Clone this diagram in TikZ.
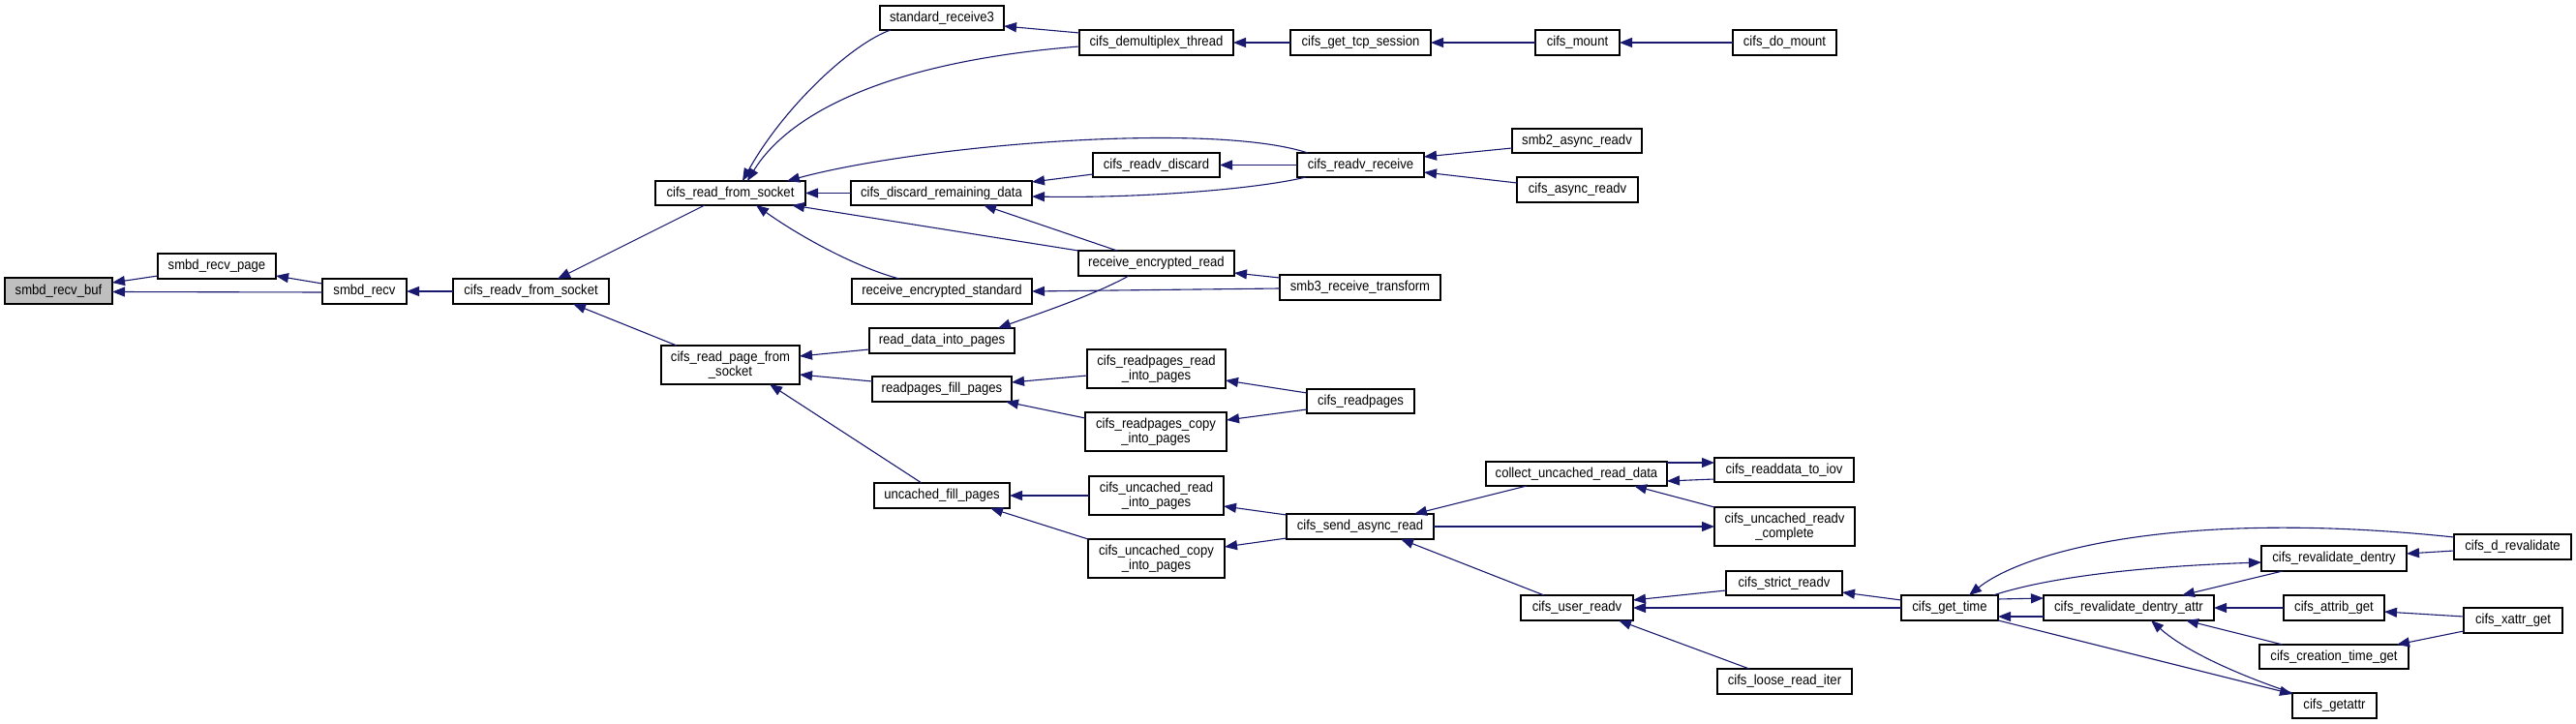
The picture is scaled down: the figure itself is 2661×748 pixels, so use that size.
\documentclass[tikz,border=0pt]{standalone}
\usepackage{fontspec}
\setmainfont{Liberation Sans}[FakeStretch=0.91]
\usetikzlibrary{arrows.meta}
\definecolor{edgec}{HTML}{191970}
\definecolor{hl}{HTML}{BFBFBF}
\tikzset{
 fnbox/.style={draw=black, line width=0.6pt, fill=white, inner sep=0pt, outer sep=0pt, align=center, font=\fontsize{7.2}{7.4}\selectfont},
 edge/.style={draw=edgec, line width=0.55pt, {Triangle[length=6.5pt,width=5pt]}-},
 fwd/.style={draw=edgec, line width=0.55pt, -{Triangle[length=6.5pt,width=5pt]}}
}
\newcommand\fnode[7][]{\node[fnbox,#1,minimum width={(#5-#3)*0.5pt},minimum height={(#6-#4)*0.5pt}] (#2) at ({(#3+#5)/2},{(#4+#6)/2}) {#7};}
\begin{document}
\begin{tikzpicture}[x={(0.5pt,0)}, y={(0,-0.5pt)}]
\fill[white] (0,0) rectangle (2661,748);
\useasboundingbox (0,0) rectangle (2661,748);
% nodes
\fnode[fill=hl]{buf}{5}{287}{116}{314}{smbd\_recv\_buf}
\fnode{page}{163}{262}{285}{288}{smbd\_recv\_page}
\fnode{recv}{333}{288}{420}{314}{smbd\_recv}
\fnode{rfs}{468}{288}{629}{314}{cifs\_readv\_from\_socket}
\fnode{crs}{677}{187}{832}{212}{cifs\_read\_from\_socket}
\fnode{sr3}{909}{6}{1037}{31}{standard\_receive3}
\fnode{demux}{1115}{31}{1274}{57}{cifs\_demultiplex\_thread}
\fnode{gts}{1333}{31}{1478}{57}{cifs\_get\_tcp\_session}
\fnode{mount}{1586}{31}{1673}{57}{cifs\_mount}
\fnode{domount}{1790}{31}{1897}{57}{cifs\_do\_mount}
\fnode{disc}{879}{187}{1066}{212}{cifs\_discard\_remaining\_data}
\fnode{rvd}{1129}{158}{1260}{183}{cifs\_readv\_discard}
\fnode{rvr}{1340}{158}{1471}{183}{cifs\_readv\_receive}
\fnode{smb2}{1562}{133}{1696}{158}{smb2\_async\_readv}
\fnode{car}{1567}{183}{1692}{209}{cifs\_async\_readv}
\fnode{rer}{1114}{259}{1275}{285}{receive\_encrypted\_read}
\fnode{res}{880}{288}{1066}{314}{receive\_encrypted\_standard}
\fnode{smb3}{1322}{284}{1488}{310}{smb3\_receive\_transform}
\fnode{rdip}{898}{339}{1048}{365}{read\_data\_into\_pages}
\fnode{rpfs}{683}{357}{826}{397}{cifs\_read\_page\_from\\\_socket}
\fnode{rfp}{901}{389}{1045}{415}{readpages\_fill\_pages}
\fnode{crrip}{1123}{361}{1266}{401}{cifs\_readpages\_read\\\_into\_pages}
\fnode{crcip}{1121}{426}{1267}{466}{cifs\_readpages\_copy\\\_into\_pages}
\fnode{crp}{1350}{402}{1461}{427}{cifs\_readpages}
\fnode{ufp}{903}{499}{1043}{525}{uncached\_fill\_pages}
\fnode{curip}{1125}{492}{1264}{532}{cifs\_uncached\_read\\\_into\_pages}
\fnode{cucip}{1124}{557}{1265}{597}{cifs\_uncached\_copy\\\_into\_pages}
\fnode{csar}{1329}{531}{1481}{557}{cifs\_send\_async\_read}
\fnode{curd}{1535}{477}{1722}{502}{collect\_uncached\_read\_data}
\fnode{iov}{1771}{473}{1915}{498}{cifs\_readdata\_to\_iov}
\fnode{comp}{1771}{524}{1916}{564}{cifs\_uncached\_readv\\\_complete}
\fnode{strict}{1783}{590}{1903}{615}{cifs\_strict\_readv}
\fnode{user}{1571}{615}{1687}{641}{cifs\_user\_readv}
\fnode{loose}{1774}{691}{1913}{717}{cifs\_loose\_read\_iter}
\fnode{gtime}{1964}{615}{2064}{641}{cifs\_get\_time}
\fnode{rda}{2111}{615}{2287}{641}{cifs\_revalidate\_dentry\_attr}
\fnode{rd}{2336}{564}{2486}{590}{cifs\_revalidate\_dentry}
\fnode{drev}{2535}{552}{2656}{578}{cifs\_d\_revalidate}
\fnode{attrib}{2359}{615}{2463}{641}{cifs\_attrib\_get}
\fnode{xattr}{2545}{628}{2647}{654}{cifs\_xattr\_get}
\fnode{ctg}{2334}{666}{2488}{691}{cifs\_creation\_time\_get}
\fnode{getattr}{2368}{716}{2455}{742}{cifs\_getattr}
% edges
\draw[edge] ([yshift=4.25pt]buf.east) -- ([yshift=-5pt]page.west);
\draw[edge] ([yshift=-0.5pt]buf.east) -- ([yshift=-0.5pt]recv.west);
\draw[edge] ([yshift=1.5pt]page.south east) -- ([yshift=-2.5pt]recv.north west);
\draw[edge] (recv.east) -- (rfs.west);
\draw[edge] ([xshift=13.75pt]rfs.north) -- ([xshift=-13.25pt]crs.south);
\draw[edge] ([xshift=21.75pt]rfs.south) -- ([xshift=-27.75pt]rpfs.north);
\draw[edge] ([xshift=6.25pt]crs.north) .. controls (810,110) and (880,45) .. ([xshift=-26.5pt]sr3.south);
\draw[edge] ([xshift=8.75pt]crs.north) .. controls (810,125) and (900,65) .. ([yshift=-2pt]demux.west);
\draw[edge] ([xshift=-9.5pt]crs.north east) .. controls (950,150) and (1250,125) .. ([xshift=5.5pt]rvr.north west);
\draw[edge] (crs.east) -- (disc.west);
\draw[edge] ([xshift=-7pt]crs.south east) -- (rer.north west);
\draw[edge] ([xshift=13.25pt]crs.south) .. controls (820,240) and (880,275) .. ([xshift=-22pt]res.north);
\draw[edge] ([yshift=-4.25pt]sr3.east) -- ([yshift=-1.5pt]demux.north west);
\draw[edge] (demux.east) -- (gts.west);
\draw[edge] (gts.east) -- (mount.west);
\draw[edge] (mount.east) -- (domount.west);
\draw[edge] ([yshift=-0.5pt]disc.north east) -- ([yshift=-4.75pt]rvd.west);
\draw[edge] ([yshift=-1.75pt]disc.east) .. controls (1180,205) and (1300,195) .. ([xshift=4.5pt]rvr.south west);
\draw[edge] (rvd.east) -- (rvr.west);
\draw[edge] ([xshift=21.75pt]disc.south) -- ([xshift=-20.25pt]rer.north);
\draw[edge] ([yshift=4.25pt]rvr.east) -- ([yshift=-3.75pt]smb2.west);
\draw[edge] ([yshift=-3.75pt]rvr.east) -- ([yshift=3.5pt]car.west);
\draw[edge] ([yshift=-5pt]rer.east) -- ([yshift=-1.5pt]smb3.north west);
\draw[edge] (res.east) -- ([yshift=-0.5pt]smb3.west);
\draw[edge] ([xshift=29pt]rdip.north) .. controls (1070,325) and (1130,305) .. ([xshift=-14.25pt]rer.south);
\draw[edge] ([yshift=4.5pt]rpfs.east) -- ([yshift=-4.5pt]rdip.west);
\draw[edge] ([yshift=-5pt]rpfs.east) -- ([yshift=4pt]rfp.west);
\draw[edge] ([xshift=20.25pt]rpfs.south) -- ([xshift=-10.5pt]ufp.north);
\draw[edge] ([yshift=3.5pt]rfp.east) -- ([yshift=-3.5pt]crrip.west);
\draw[edge] ([xshift=-3pt]rfp.south east) -- ([yshift=-3pt]crcip.north west);
\draw[edge] ([yshift=-6pt]crrip.east) -- ([yshift=-2pt]crp.north west);
\draw[edge] ([yshift=6pt]crcip.east) -- ([yshift=-4.25pt]crp.west);
\draw[edge] (ufp.east) -- (curip.west);
\draw[edge] ([xshift=25pt]ufp.south) -- (cucip.north west);
\draw[edge] ([yshift=-5.5pt]curip.east) -- ([yshift=-0.5pt]csar.north west);
\draw[edge] ([yshift=6pt]cucip.east) -- ([yshift=0.5pt]csar.south west);
\draw[edge] ([xshift=-10pt]csar.north east) -- ([xshift=21pt]curd.south west);
\draw[fwd] (csar.east) -- (comp.west);
\draw[edge] ([xshift=21pt]csar.south) -- ([xshift=-17pt]user.north);
\draw[fwd] ([yshift=-0.5pt]curd.north east) -- ([yshift=3.75pt]iov.west);
\draw[edge] ([yshift=-3.75pt]curd.east) -- ([yshift=-4.75pt]iov.west);
\draw[edge] ([xshift=29.75pt]curd.south) -- (comp.north west);
\draw[edge] ([yshift=4pt]user.east) -- ([yshift=-3.75pt]strict.west);
\draw[edge] (user.east) -- (gtime.west);
\draw[edge] ([xshift=21.5pt]user.south) -- ([xshift=-18.25pt]loose.north);
\draw[edge] ([yshift=-4.75pt]strict.east) -- ([yshift=-2.5pt]gtime.north west);
\draw[edge] ([xshift=10pt]gtime.north) .. controls (2090,570) and (2250,525) .. ([yshift=-1.5pt]drev.north west);
\draw[fwd] ([xshift=-2.5pt]gtime.north east) .. controls (2120,595) and (2220,585) .. ([yshift=-2pt]rd.west);
\draw[fwd] ([yshift=4.5pt]gtime.east) -- ([yshift=5pt]rda.west);
\draw[edge] ([yshift=-4.5pt]gtime.east) -- ([yshift=-4.5pt]rda.west);
\draw[fwd] (gtime.south east) -- ([yshift=-0.5pt]getattr.north west);
\draw[edge] ([xshift=27.5pt]rda.north) -- ([xshift=-26.5pt]rd.south);
\draw[edge] ([yshift=2.5pt]rd.east) -- ([yshift=-2pt]drev.west);
\draw[edge] (rda.east) -- (attrib.west);
\draw[edge] ([xshift=29.5pt]rda.south) -- ([xshift=-26.5pt]ctg.north);
\draw[edge] ([xshift=11.5pt]rda.south) .. controls (2260,675) and (2320,700) .. (getattr.north west);
\draw[edge] ([yshift=-2pt]attrib.east) -- ([yshift=2pt]xattr.west);
\draw[edge] ([xshift=-6pt]ctg.north east) -- ([yshift=1pt]xattr.south west);
\end{tikzpicture}
\end{document}
